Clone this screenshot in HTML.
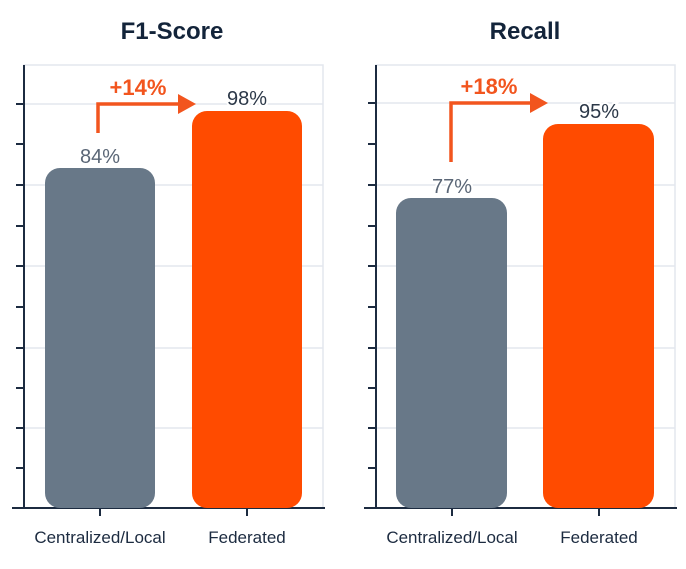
<!DOCTYPE html>
<html><head><style>html,body{margin:0;padding:0;background:#fff;}svg{display:block}</style></head>
<body>
<svg width="686" height="569" viewBox="0 0 686 569" xmlns="http://www.w3.org/2000/svg" font-family="Liberation Sans, sans-serif">
<rect width="686" height="569" fill="#fff"/>
<!-- Left panel -->
<g>
<rect x="24" y="65" width="299" height="443" fill="none" stroke="#e3e7ee" stroke-width="1.5"/>
<g stroke="#e3e7ee" stroke-width="1.5">
<line x1="24" y1="104" x2="323" y2="104"/><line x1="24" y1="185" x2="323" y2="185"/><line x1="24" y1="266" x2="323" y2="266"/><line x1="24" y1="348" x2="323" y2="348"/><line x1="24" y1="428" x2="323" y2="428"/>
</g>
<g stroke="#1c2b40" stroke-width="2">
<line x1="24" y1="65" x2="24" y2="509"/><line x1="12" y1="508" x2="325" y2="508"/>
<line x1="16" y1="104" x2="24" y2="104"/><line x1="16" y1="144" x2="24" y2="144"/><line x1="16" y1="185" x2="24" y2="185"/><line x1="16" y1="226" x2="24" y2="226"/><line x1="16" y1="266" x2="24" y2="266"/><line x1="16" y1="307" x2="24" y2="307"/><line x1="16" y1="348" x2="24" y2="348"/><line x1="16" y1="388" x2="24" y2="388"/><line x1="16" y1="428" x2="24" y2="428"/><line x1="16" y1="468" x2="24" y2="468"/>
<line x1="100" y1="508" x2="100" y2="516"/><line x1="247" y1="508" x2="247" y2="516"/>
</g>
<rect x="45" y="168" width="110" height="340" rx="15" fill="#687888"/>
<rect x="192" y="111" width="110" height="397" rx="15" fill="#ff4b00"/>
<text x="100" y="163" text-anchor="middle" font-size="20" fill="#5a6676" stroke="#fff" stroke-width="4" paint-order="stroke">84%</text>
<text x="247" y="105" text-anchor="middle" font-size="20" fill="#2c3848" stroke="#fff" stroke-width="4" paint-order="stroke">98%</text>
<path d="M98 133 V104 H180" fill="none" stroke="#f2551e" stroke-width="3.5"/>
<polygon points="178,94 196,104 178,114" fill="#f2551e"/>
<text x="138" y="95" text-anchor="middle" font-size="22" font-weight="bold" fill="#f2551e">+14%</text>
<text x="172" y="39" text-anchor="middle" font-size="24" font-weight="bold" fill="#13243a">F1-Score</text>
<text x="100" y="543" text-anchor="middle" font-size="17" fill="#1c2b40">Centralized/Local</text>
<text x="247" y="543" text-anchor="middle" font-size="17" fill="#1c2b40">Federated</text>
</g>
<!-- Right panel -->
<g>
<rect x="376" y="65" width="299" height="443" fill="none" stroke="#e3e7ee" stroke-width="1.5"/>
<g stroke="#e3e7ee" stroke-width="1.5">
<line x1="376" y1="103" x2="675" y2="103"/><line x1="376" y1="185" x2="675" y2="185"/><line x1="376" y1="266" x2="675" y2="266"/><line x1="376" y1="348" x2="675" y2="348"/><line x1="376" y1="428" x2="675" y2="428"/>
</g>
<g stroke="#1c2b40" stroke-width="2">
<line x1="376" y1="65" x2="376" y2="509"/><line x1="364" y1="508" x2="677" y2="508"/>
<line x1="368" y1="103" x2="376" y2="103"/><line x1="368" y1="144" x2="376" y2="144"/><line x1="368" y1="185" x2="376" y2="185"/><line x1="368" y1="226" x2="376" y2="226"/><line x1="368" y1="266" x2="376" y2="266"/><line x1="368" y1="307" x2="376" y2="307"/><line x1="368" y1="348" x2="376" y2="348"/><line x1="368" y1="388" x2="376" y2="388"/><line x1="368" y1="428" x2="376" y2="428"/><line x1="368" y1="468" x2="376" y2="468"/>
<line x1="452" y1="508" x2="452" y2="516"/><line x1="599" y1="508" x2="599" y2="516"/>
</g>
<rect x="396" y="198" width="111" height="310" rx="15" fill="#687888"/>
<rect x="543" y="124" width="111" height="384" rx="15" fill="#ff4b00"/>
<text x="452" y="193" text-anchor="middle" font-size="20" fill="#5a6676" stroke="#fff" stroke-width="4" paint-order="stroke">77%</text>
<text x="599" y="118" text-anchor="middle" font-size="20" fill="#2c3848" stroke="#fff" stroke-width="4" paint-order="stroke">95%</text>
<path d="M451 162 V103 H532" fill="none" stroke="#f2551e" stroke-width="3.5"/>
<polygon points="530,93 548,103 530,113" fill="#f2551e"/>
<text x="489" y="94" text-anchor="middle" font-size="22" font-weight="bold" fill="#f2551e">+18%</text>
<text x="525" y="39" text-anchor="middle" font-size="24" font-weight="bold" fill="#13243a">Recall</text>
<text x="452" y="543" text-anchor="middle" font-size="17" fill="#1c2b40">Centralized/Local</text>
<text x="599" y="543" text-anchor="middle" font-size="17" fill="#1c2b40">Federated</text>
</g>
</svg>
</body></html>
